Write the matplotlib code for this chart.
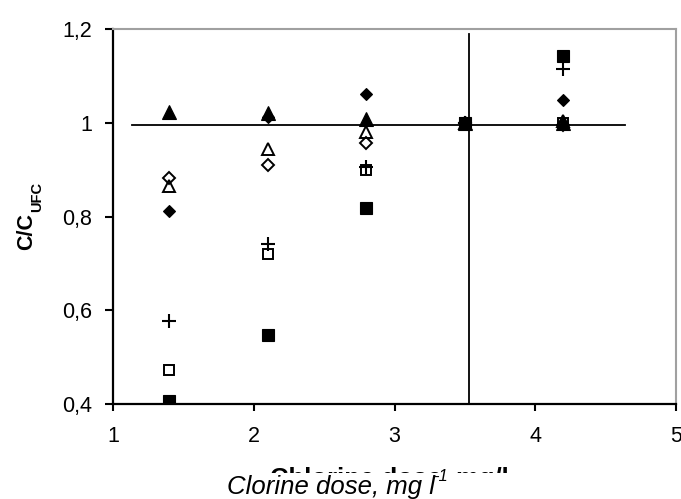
import matplotlib
matplotlib.use("Agg")
import matplotlib.pyplot as plt
from matplotlib.patches import Rectangle

plt.rcParams['font.family'] = ['Liberation Sans', 'DejaVu Sans']

# ---- data ----
doses = [1.4, 2.1, 2.8, 3.5, 4.2]
filled_triangle = [1.023, 1.020, 1.008, 1.000, 1.000]
open_triangle = [0.866, 0.943, 0.980, 1.000, 1.004]
filled_diamond = [0.811, 1.012, 1.061, 1.000, 1.049]
open_diamond = [0.882, 0.909, 0.957, 1.000, 0.996]
open_square = [0.472, 0.720, 0.900, 1.000, 1.000]
plus_series = [0.577, 0.742, 0.906, 1.000, 1.114]
filled_square = [0.407, 0.548, 0.818, 1.000, 1.143]

x_ticks = [1, 2, 3, 4, 5]
x_tick_labels = ['1', '2', '3', '4', '5']
y_ticks = [0.4, 0.6, 0.8, 1.0, 1.2]
y_tick_labels = ['0,4', '0,6', '0,8', '1', '1,2']

h_line_y = 0.995
h_line_x = [1.135, 4.64]
v_line_x = 3.53
v_line_y = [0.4, 1.19]

W, H = 681, 499

def fx(px):
    return px / W

def fy(py):
    return 1 - py / H

# ---- figure ----
fig = plt.figure(figsize=(6.81, 4.99), dpi=100)
ax = fig.add_axes([fx(113), fy(404), (676 - 113) / W, (404 - 29) / H])

ax.plot(h_line_x, [h_line_y, h_line_y], color='black', lw=1.3, zorder=2)
ax.plot([v_line_x, v_line_x], v_line_y, color='black', lw=1.3, zorder=2)

ax.plot(doses, filled_square, ls='none', marker='s', ms=8.5, mfc='black', mec='black', mew=0.8, zorder=3)
ax.plot(doses, filled_triangle, ls='none', marker='^', ms=10, mfc='black', mec='black', mew=0.8, zorder=3)
ax.plot(doses, filled_diamond, ls='none', marker='D', ms=6.4, mfc='black', mec='black', mew=0.8, zorder=3)
ax.plot(doses, open_triangle, ls='none', marker='^', ms=9, mfc='none', mec='black', mew=1.4, zorder=3)
ax.plot(doses, open_diamond, ls='none', marker='D', ms=6.3, mfc='none', mec='black', mew=1.4, zorder=3)
ax.plot(doses, open_square, ls='none', marker='s', ms=7.6, mfc='none', mec='black', mew=1.4, zorder=3)
ax.plot(doses, plus_series, ls='none', marker='+', ms=10.5, mec='black', mew=1.5, zorder=3)

ax.set_xlim(1, 5)
ax.set_ylim(0.4, 1.2)
ax.set_xticks(x_ticks)
ax.set_xticklabels(x_tick_labels)
ax.set_yticks(y_ticks)
ax.set_yticklabels(y_tick_labels)
ax.tick_params(axis='both', direction='out', labelsize=15.5, width=1.5, color='black')
ax.tick_params(axis='x', length=5, pad=11)
ax.tick_params(axis='y', length=6, pad=9)

for s in ['left', 'bottom']:
    ax.spines[s].set_color('black')
    ax.spines[s].set_linewidth(1.6)
for s in ['top', 'right']:
    ax.spines[s].set_color('#a0a0a0')
    ax.spines[s].set_linewidth(1.5)

# y label: C/C with subscript UFC (bold)
fig.text(fx(32), fy(250), 'C/C', rotation=90, rotation_mode='anchor',
         ha='left', va='baseline', fontsize=15.5, fontweight='bold')
fig.text(fx(41.5), fy(212), 'UFC', rotation=90, rotation_mode='anchor',
         ha='left', va='baseline', fontsize=10.5, fontweight='bold')

# bold label partly hidden behind the italic one
fig.text(fx(389), fy(486), 'Chlorine dose, mg/l', fontweight='bold',
         ha='center', va='baseline', fontsize=18.5, zorder=1)
fig.add_artist(Rectangle((fx(200), 0), 380 / W, (H - 473) / H,
                         transform=fig.transFigure, facecolor='white',
                         edgecolor='none', zorder=2))
main = fig.text(fx(227), fy(494), 'Clorine dose, mg l', fontstyle='italic',
                ha='left', va='baseline', fontsize=18.5, zorder=3)
renderer = fig.canvas.get_renderer()
bb = main.get_window_extent(renderer)
fig.text(bb.x1 / W - 1.5 / W, fy(481), '-1', fontstyle='italic',
         ha='left', va='baseline', fontsize=12, zorder=3)

fig.savefig('out.png', dpi=100)
